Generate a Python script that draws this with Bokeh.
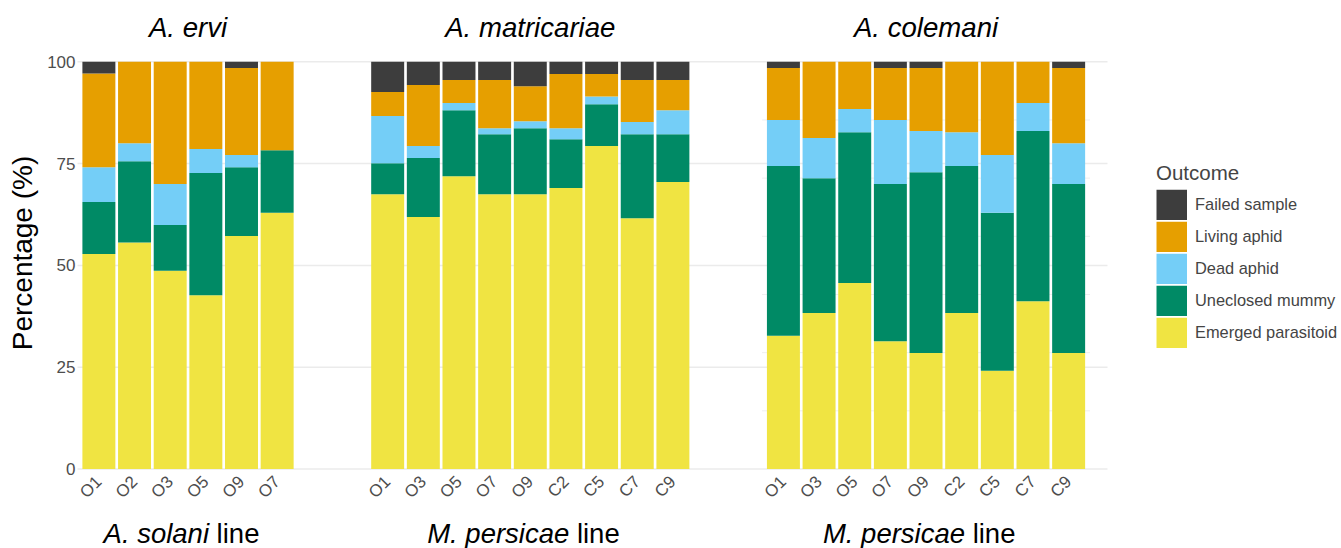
import math
from bokeh.plotting import figure
from bokeh.models import (ColumnDataSource, FixedTicker, Label, Legend, LegendItem, Range1d)
from bokeh.embed import file_html
from bokeh.resources import INLINE

FONT = "Liberation Sans"

# ---------------- data ----------------
species = ["A. ervi", "A. matricariae", "A. colemani"]
host_italic = ["A. solani", "M. persicae", "M. persicae"]
host_suffix = "line"

lines_ervi = ["O1", "O2", "O3", "O5", "O9", "O7"]
lines_matr = ["O1", "O3", "O5", "O7", "O9", "C2", "C5", "C7", "C9"]
lines_cole = ["O1", "O3", "O5", "O7", "O9", "C2", "C5", "C7", "C9"]

emerged_ervi = [52.8, 55.6, 48.7, 42.7, 57.2, 62.9]
mummy_ervi = [12.8, 20.0, 11.2, 30.0, 16.9, 15.4]
dead_ervi = [8.5, 4.4, 10.1, 5.9, 3.0, 0.0]
living_ervi = [23.0, 20.0, 30.0, 21.4, 21.4, 21.7]
failed_ervi = [2.9, 0.0, 0.0, 0.0, 1.5, 0.0]

emerged_matr = [67.5, 61.9, 71.9, 67.5, 67.5, 69.0, 79.3, 61.6, 70.5]
mummy_matr = [7.6, 14.5, 16.2, 14.7, 16.2, 12.0, 10.3, 20.6, 11.7]
dead_matr = [11.6, 2.9, 1.8, 1.5, 1.7, 2.7, 1.9, 3.0, 5.9]
living_matr = [5.9, 15.0, 5.6, 11.8, 8.6, 13.3, 5.5, 10.3, 7.4]
failed_matr = [7.4, 5.7, 4.5, 4.5, 6.0, 3.0, 3.0, 4.5, 4.5]

emerged_cole = [32.7, 38.3, 45.7, 31.4, 28.5, 38.3, 24.1, 41.2, 28.5]
mummy_cole = [41.7, 33.1, 37.0, 38.6, 44.4, 36.1, 38.8, 41.8, 41.5]
dead_cole = [11.3, 9.9, 5.7, 15.7, 10.1, 8.3, 14.2, 6.9, 10.0]
living_cole = [12.8, 18.7, 11.6, 12.8, 15.5, 17.3, 22.9, 10.1, 18.5]
failed_cole = [1.5, 0.0, 0.0, 1.5, 1.5, 0.0, 0.0, 0.0, 1.5]

y_ticks = [0, 25, 50, 75, 100]

outcomes = ["Emerged parasitoid", "Uneclosed mummy", "Dead aphid", "Living aphid", "Failed sample"]
colors = ["#F0E442", "#008A65", "#74CEF7", "#E69F00", "#3D3D3D"]

# ---------------- facets laid out on one numeric axis ----------------
W, H = 1341, 548
STEP = 10      # distance between neighbouring bars
GAP = 31       # distance between last bar of a facet and first bar of the next
panel_lines = [lines_ervi, lines_matr, lines_cole]
panel_vals = [
    [emerged_ervi, mummy_ervi, dead_ervi, living_ervi, failed_ervi],
    [emerged_matr, mummy_matr, dead_matr, living_matr, failed_matr],
    [emerged_cole, mummy_cole, dead_cole, living_cole, failed_cole],
]
keys = ["emerged", "mummy", "dead", "living", "failed"]

xs, labels, panel_first, panel_last = [], [], [], []
cols = {k: [] for k in keys}
offset = 0
for lines, vals in zip(panel_lines, panel_vals):
    px = [offset + STEP * i for i in range(len(lines))]
    panel_first.append(px[0])
    panel_last.append(px[-1])
    xs += px
    labels += lines
    for k, v in zip(keys, vals):
        cols[k] += v
    offset = px[-1] + GAP
src = ColumnDataSource(dict(x=xs, label=labels, **cols))

# plotting area (in pixels of the page) and matching data ranges
AREA_L, AREA_R = 77, 1107          # horizontal extent of the panels
Y0_PX, Y100_PX = 468.5, 61.3       # pixel rows of 0 % and 100 %
xlo, xhi = xs[0] - 6, xs[-1] + 10.9
ux = (AREA_R - AREA_L) / (xhi - xlo)
uy = (Y0_PX - Y100_PX) / 100.0
x_range = Range1d(xlo - AREA_L / ux, xhi + (W - AREA_R) / ux)
y_range = Range1d(-(H - Y0_PX) / uy, 100 + Y100_PX / uy)

p = figure(width=W, height=H, output_backend="svg", toolbar_location=None,
           x_range=x_range, y_range=y_range,
           min_border_left=0, min_border_right=0, min_border_top=0, min_border_bottom=0)
p.outline_line_color = None
p.background_fill_color = "white"
p.border_fill_color = "white"
p.xgrid.visible = False
p.ygrid.visible = False

# horizontal grid lines across the panel area
p.segment(x0=[xlo] * len(y_ticks), x1=[xhi] * len(y_ticks), y0=y_ticks, y1=y_ticks,
          line_color="#ebebeb", line_width=1.5)
# faint extra grid of the third facet
gy = [100 * k / 7 for k in range(1, 7)]
p.segment(x0=[panel_first[2] - 6] * 6, x1=[panel_last[2] + 6] * 6, y0=gy, y1=gy,
          line_color="#efefef", line_width=1)

rs = p.vbar_stack(keys, x="x", width=9.25, color=colors, line_color=None, source=src)

# legend swatches: invisible (NaN) line renderers drawn as thick butt-capped strokes
nan = float("nan")
swatches = [p.line(x=[nan], y=[nan], line_color=c, line_width=30.5, line_cap="butt")
            for c in colors]

# axes, pinned to the panel area
p.xaxis.fixed_location = 0
p.xaxis.ticker = FixedTicker(ticks=xs)
p.xaxis.major_label_overrides = {x: l for x, l in zip(xs, labels)}
p.xaxis.major_label_orientation = math.pi / 4
p.xaxis.axis_line_color = None
p.xaxis.major_tick_line_color = None
p.xaxis.minor_tick_line_color = None
p.xaxis.major_tick_out = 0
p.xaxis.minor_tick_out = 0
p.xaxis.major_tick_in = 0
p.xaxis.major_label_text_font = FONT
p.xaxis.major_label_text_font_size = "17px"
p.xaxis.major_label_text_color = "#4d4d4d"
p.xaxis.major_label_standoff = 10

p.yaxis.fixed_location = xlo
p.yaxis.ticker = FixedTicker(ticks=y_ticks)
p.yaxis.axis_line_color = None
p.yaxis.major_tick_line_color = None
p.yaxis.minor_tick_line_color = None
p.yaxis.major_tick_out = 0
p.yaxis.minor_tick_out = 0
p.yaxis.major_tick_in = 0
p.yaxis.major_label_text_font = FONT
p.yaxis.major_label_text_font_size = "17px"
p.yaxis.major_label_text_color = "#4d4d4d"
p.yaxis.major_label_standoff = 2

# facet titles (screen y measured from the bottom of the page)
for name, a, b in zip(species, panel_first, panel_last):
    p.add_layout(Label(x=(a + b) / 2, y=521, x_units="data", y_units="screen", text=name,
                       text_font=FONT, text_font_size="27.6px", text_font_style="italic",
                       text_color="black", text_align="center", text_baseline="alphabetic"))

# bottom host labels (italic species + plain "line")
ital_offsets = [21.0, 39.0, 39.0]
for host, off, a, b in zip(host_italic, ital_offsets, panel_first, panel_last):
    c = (a + b) / 2
    p.add_layout(Label(x=c, y=15.5, x_units="data", y_units="screen", x_offset=off, text=host,
                       text_font=FONT, text_font_size="27.5px", text_font_style="italic",
                       text_color="black", text_align="right", text_baseline="alphabetic"))
    p.add_layout(Label(x=c, y=15.5, x_units="data", y_units="screen", x_offset=off + 7.6,
                       text=host_suffix, text_font=FONT, text_font_size="27.5px",
                       text_color="black", text_align="left", text_baseline="alphabetic"))

# y axis title
p.add_layout(Label(x=22, y=H - 252.5, x_units="screen", y_units="screen", angle=math.pi / 2,
                   text="Percentage (%)", text_font=FONT, text_font_size="28px",
                   text_color="black", text_align="center", text_baseline="alphabetic"))

# legend (reverse order: Failed sample on top)
items = [LegendItem(label=o, renderers=[r]) for o, r in zip(outcomes, swatches)][::-1]
legend = Legend(items=items, location=(1156, H - 348), title="Outcome",
                title_text_font=FONT, title_text_font_size="20.5px", title_text_font_style="normal",
                title_standoff=4, label_text_font=FONT, label_text_font_size="16.4px",
                glyph_width=31, glyph_height=31, label_height=20, spacing=1, padding=0, margin=0,
                label_standoff=8, border_line_color=None, background_fill_alpha=0)
p.add_layout(legend)

open("out.html", "w").write(file_html(p, INLINE))
